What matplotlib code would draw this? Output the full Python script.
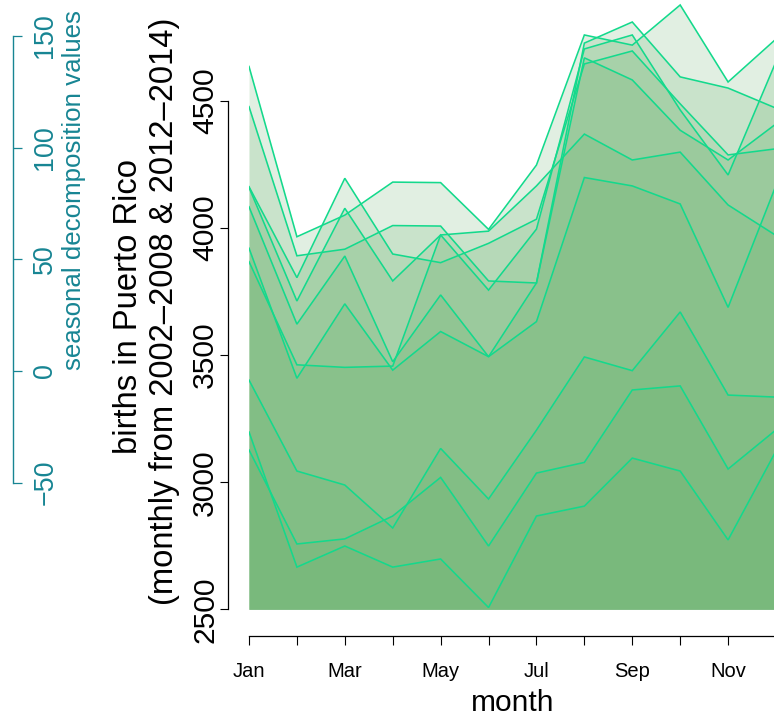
import matplotlib
matplotlib.use("Agg")
import matplotlib.pyplot as plt

plt.rcParams["font.family"] = ["Liberation Sans", "DejaVu Sans"]

# ---- data -------------------------------------------------------------
months = list(range(1, 13))
month_labels = ["Jan", "", "Mar", "", "May", "", "Jul", "", "Sep", "", "Nov", ""]
birth_ticks = [2500, 3000, 3500, 4000, 4500]
seasonal_ticks = [-50, 0, 50, 100, 150]

births_yr01 = [4636, 3966, 4051, 4181, 4179, 3995, 4248, 4760, 4720, 4878, 4575, 4744]
births_yr02 = [4478, 3891, 3917, 4010, 4008, 3792, 3784, 4728, 4811, 4595, 4551, 4472]
births_yr03 = [4163, 3805, 4196, 3898, 3864, 3940, 4035, 4646, 4697, 4489, 4288, 4312]
births_yr04 = [4160, 3713, 4078, 3792, 3973, 3756, 3996, 4705, 4760, 4465, 4209, 4655]
births_yr05 = [4084, 3622, 3890, 3474, 3737, 3494, 3784, 4670, 4583, 4385, 4268, 4410]
births_yr06 = [3868, 3462, 3452, 3457, 3973, 3988, 4166, 4370, 4268, 4299, 4091, 3971]
births_yr07 = [3921, 3409, 3702, 3441, 3593, 3494, 3632, 4199, 4166, 4095, 3688, 4168]
births_yr08 = [3402, 3044, 2989, 2820, 3133, 2934, 3205, 3493, 3439, 3670, 3343, 3335]
births_yr09 = [3127, 2757, 2777, 2867, 3019, 2749, 3036, 3078, 3363, 3379, 3052, 3206]
births_yr10 = [3198, 2666, 2749, 2666, 2698, 2507, 2867, 2906, 3095, 3044, 2773, 3123]

all_years = [births_yr01, births_yr02, births_yr03, births_yr04, births_yr05,
             births_yr06, births_yr07, births_yr08, births_yr09, births_yr10]
baseline = 2500

# ---- style --------------------------------------------------------------
FILL = "#6ab26f"
FILL_ALPHA = 0.195
LINE = "#14d98c"
TEAL = "#178593"

W, H, DPI = 774, 716, 100
fig = plt.figure(figsize=(W / DPI, H / DPI), dpi=DPI)


def fx(px):
    return px / W


def fy(py):
    return 1 - py / H


# main panel: Jan at x=249px, Dec at x=776px; x axis line at y=636px
x_left, x_right = 249, 776
y_top, y_bottom = 0, 636
ax = fig.add_axes([fx(x_left), fy(y_bottom), (x_right - x_left) / W, (y_bottom - y_top) / H])
ax.set_xlim(1, 12)
ax.set_ylim(2394.9, 4897.6)
ax.patch.set_visible(False)

for vals in all_years:
    ax.fill_between(months, baseline, vals, color=FILL, alpha=FILL_ALPHA, lw=0)
for vals in all_years:
    ax.plot(months, vals, color=LINE, lw=1.15, solid_joinstyle="miter")

for s in ("top", "right"):
    ax.spines[s].set_visible(False)
ax.spines["bottom"].set_linewidth(0.9)
ax.spines["left"].set_linewidth(0.9)
ax.spines["left"].set_position(("outward", 21 * 72 / DPI))
ax.spines["left"].set_bounds(2500, 4500)

ax.set_xticks(months)
ax.set_xticklabels(month_labels)
ax.tick_params(axis="x", length=6.2, width=0.8, pad=12.5, labelsize=14.5)

ax.set_yticks(birth_ticks)
ax.set_yticklabels([str(v) for v in birth_ticks])
ax.tick_params(axis="y", length=5.8, width=0.8, pad=0.5, labelsize=21.6)
for t in ax.get_yticklabels():
    t.set_rotation(90)
    t.set_va("center")

fig.text(fx(513), fy(711), "month", fontsize=21.5, ha="center", va="baseline")
fig.text(fx(128.5), fy(306), "births in Puerto Rico", rotation=90,
         fontsize=23.6, ha="center", va="center")
fig.text(fx(165), fy(311), "(monthly from 2002\u20132008 & 2012\u20132014)", rotation=90,
         fontsize=23.6, ha="center", va="center")

# secondary scale for the seasonal decomposition values
axt = fig.add_axes([fx(3), fy(482.7), 10 / W, (482.7 - 36) / H])
axt.set_ylim(-50, 150)
axt.patch.set_visible(False)
for s in ("left", "top", "bottom"):
    axt.spines[s].set_visible(False)
axt.spines["right"].set_color(TEAL)
axt.spines["right"].set_linewidth(1.0)
axt.set_xticks([])
axt.yaxis.tick_right()
axt.set_yticks(seasonal_ticks)
axt.set_yticklabels(["\u221250" if v < 0 else str(v) for v in seasonal_ticks])
axt.tick_params(axis="y", colors=TEAL, length=6.5, width=0.9, pad=7.5, labelsize=19.4)
for t in axt.get_yticklabels():
    t.set_rotation(90)
    t.set_va("center")

fig.text(fx(74), fy(190), "seasonal decomposition values", rotation=90,
         color=TEAL, fontsize=18.6, ha="center", va="center")

fig.savefig("out.png", dpi=DPI)
